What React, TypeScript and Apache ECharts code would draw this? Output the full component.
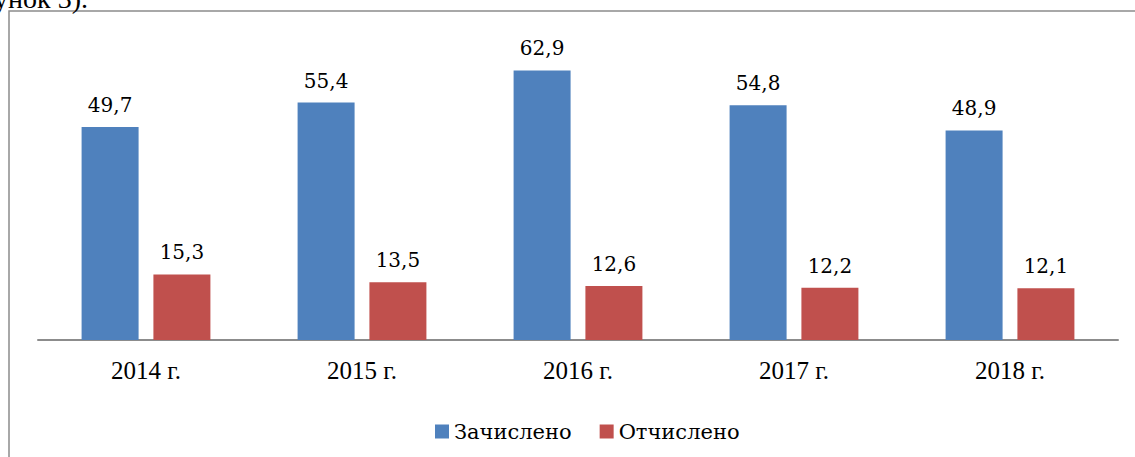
import React, { useEffect, useRef } from "react";
import * as echarts from "echarts";

const categories = ["2014 г.", "2015 г.", "2016 г.", "2017 г.", "2018 г."];
const enrolled = [49.7, 55.4, 62.9, 54.8, 48.9];
const expelled = [15.3, 13.5, 12.6, 12.2, 12.1];
const seriesNames = ["Зачислено", "Отчислено"];

const FONT = "Liberation Serif";
const FONT2 = "DejaVu Serif";

export default function App() {
  const ref = useRef<HTMLDivElement>(null);
  useEffect(() => {
    if (!ref.current) return;
    const chart = echarts.init(ref.current, undefined, { renderer: "svg" });
    const fmt = (p: any) => String(p.value).replace(".", ",");
    const makeLabel = () => ({
      show: true,
      position: "top" as const,
      distance: 12,
      formatter: fmt,
      fontSize: 20,
      color: "#000",
      fontFamily: FONT2,
    });
    chart.setOption({
      animation: false,
      backgroundColor: "#ffffff",
      textStyle: { fontFamily: FONT },
      graphic: [
        {
          type: "rect",
          shape: { x: 9, y: 11, width: 1140, height: 470 },
          style: { fill: "none", stroke: "#8c8c8c", lineWidth: 1.5 },
          silent: true,
        },
        {
          type: "text",
          x: 88,
          y: 12,
          style: {
            text: "унок 3).",
            fontSize: 28,
            fontFamily: FONT,
            fill: "#000",
            align: "right",
            verticalAlign: "bottom",
          },
          silent: true,
        },
      ],
      grid: { left: 38, right: 17, top: 40, bottom: 117, containLabel: false },
      legend: {
        left: 430,
        top: 416,
        icon: "rect",
        itemWidth: 14,
        itemHeight: 14,
        itemGap: 28,
        textStyle: {
          fontSize: 21,
          color: "#000",
          fontFamily: FONT2,
        },
        data: seriesNames,
      },
      xAxis: {
        type: "category",
        data: categories,
        axisLine: { show: true, lineStyle: { color: "#8c8c8c", width: 2 } },
        axisTick: { show: false },
        axisLabel: { fontSize: 25, color: "#000", fontFamily: FONT, margin: 18 },
        splitLine: { show: false },
      },
      yAxis: {
        type: "value",
        min: 0,
        max: 70,
        show: false,
        splitLine: { show: false },
      },
      series: [
        {
          name: seriesNames[0],
          type: "bar",
          data: enrolled,
          barWidth: 57,
          barGap: "26%",
          itemStyle: { color: "#4F81BD" },
          label: makeLabel(),
        },
        {
          name: seriesNames[1],
          type: "bar",
          data: expelled,
          barWidth: 57,
          barGap: "26%",
          itemStyle: { color: "#C0504D" },
          label: makeLabel(),
        },
      ],
    });
    return () => chart.dispose();
  }, []);
  return (
    <div
      ref={ref}
      style={{ position: "absolute", left: 0, top: 0, width: 1135, height: 457 }}
    />
  );
}
